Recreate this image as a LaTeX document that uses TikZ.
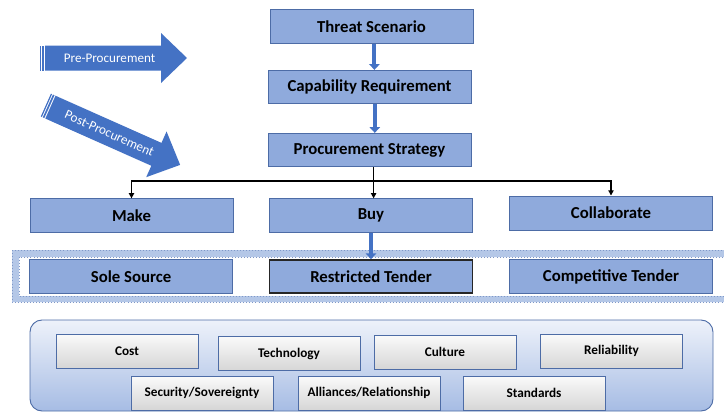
\documentclass[tikz,border=0pt]{standalone}
\usepackage{fontspec}
\setmainfont{Carlito}
\usetikzlibrary{arrows.meta,positioning,shapes}

\definecolor{boxblue}{HTML}{8FAADC}
\definecolor{boxedge}{HTML}{4D6CA6}
\definecolor{accent}{HTML}{4472C4}
\definecolor{bandblue}{HTML}{B4C7E7}
\definecolor{bandedge}{HTML}{7F98C8}
\definecolor{paneltop}{HTML}{EEF2FA}
\definecolor{panelbot}{HTML}{A6BCE4}

\begin{document}
\begin{tikzpicture}[x=0.03cm,y=-0.03cm,
  stage/.style={draw=boxedge,fill=boxblue,line width=0.8pt,minimum width=6.09cm,minimum height=1cm,inner sep=0pt,font=\bfseries\fontsize{14.3}{16}\selectfont},
  factor/.style={draw=boxedge,top color=gray!4,bottom color=gray!32,line width=0.8pt,minimum width=4.26cm,minimum height=1.02cm,inner sep=0pt,font=\bfseries\fontsize{11.3}{13}\selectfont},
  phase/.style={text=white,inner sep=0pt,font=\fontsize{11.2}{13}\selectfont},
  flow/.style={draw=accent,line width=3.4pt,-{Triangle[width=9pt,length=5pt]}},
  split/.style={line width=1.1pt,-{Triangle[width=4.5pt,length=4.5pt]}}]
\useasboundingbox (0,0) rectangle (724,412);

% phase arrows
\begin{scope}[shift={(113.5,58)}]
  \fill[accent] (-68.5,-12.5) -- (47.5,-12.5) -- (47.5,-25) -- (73.5,0) -- (47.5,25) -- (47.5,12.5) -- (-68.5,12.5) -- cycle;
  \fill[accent] (-73.5,-12.5) rectangle (-72.3,12.5);
  \fill[accent] (-71.3,-12.5) rectangle (-69.6,12.5);
  \node[phase] (pre) at (-4,0) {Pre-Procurement};
\end{scope}
\begin{scope}[shift={(113,135)},rotate=-24,transform shape]
  \fill[accent] (-68.5,-12.5) -- (47.5,-12.5) -- (47.5,-25) -- (73.5,0) -- (47.5,25) -- (47.5,12.5) -- (-68.5,12.5) -- cycle;
  \fill[accent] (-73.5,-12.5) rectangle (-72.3,12.5);
  \fill[accent] (-71.3,-12.5) rectangle (-69.6,12.5);
  \node[phase] (post) at (-4,0) {Post-Procurement};
\end{scope}

% tender band
\fill[bandblue,even odd rule] (12,250) rectangle (740,302) (19,257) rectangle (740,296);
\draw[bandedge,dotted,line width=0.6pt] (12,250) rectangle (740,302);
\draw[bandedge,dotted,line width=0.6pt] (19,257) rectangle (740,296);

% criteria panel
\draw[draw=boxedge,line width=0.8pt,top color=paneltop,bottom color=panelbot,rounded corners=0.36cm] (30,320) rectangle (713,411);

\node[stage] (threat) at (371.5,26.5) {Threat Scenario};
\node[stage] (capab) at (369.5,87) {Capability Requirement};
\node[stage] (strategy) at (369.5,150) {Procurement Strategy};
\node[stage] (make) at (131.5,215.5) {Make};
\node[stage] (buy) at (371,215.5) {Buy};
\node[stage,minimum height=1.02cm] (collab) at (611,213) {Collaborate};
\node[stage] (sole) at (131,276.5) {Sole Source};
\node[stage,draw=black!85,line width=1.2pt] (restricted) at (371,276.5) {Restricted Tender};
\node[stage] (competitive) at (611,276.5) {Competitive Tender};

\node[factor] (cost) at (127,351) {Cost};
\node[factor] (tech) at (289,353.5) {Technology};
\node[factor] (culture) at (445,352) {Culture};
\node[factor] (reliab) at (611.5,351) {Reliability};
\node[factor] (secur) at (202,393) {Security/Sovereignty};
\node[factor] (allian) at (369,393) {Alliances/Relationship};
\node[factor] (standards) at (534,393) {Standards};

\draw[flow] ([xshift=2.5]threat.south) -- ([xshift=2.5]threat.south |- capab.north);
\draw[flow] ([xshift=4.5]capab.south) -- ([xshift=4.5]capab.south |- strategy.north);
\draw[flow] (buy.south) -- (restricted.north);

\path ([xshift=3.5]strategy.south) ++(0,14) coordinate (fork);
\draw[split] ([xshift=3.5]strategy.south) -- ([xshift=3.5]strategy.south |- buy.north);
\draw[split] (fork) -| (make.north);
\draw[split] (fork) -| (collab.north);
\end{tikzpicture}
\end{document}
